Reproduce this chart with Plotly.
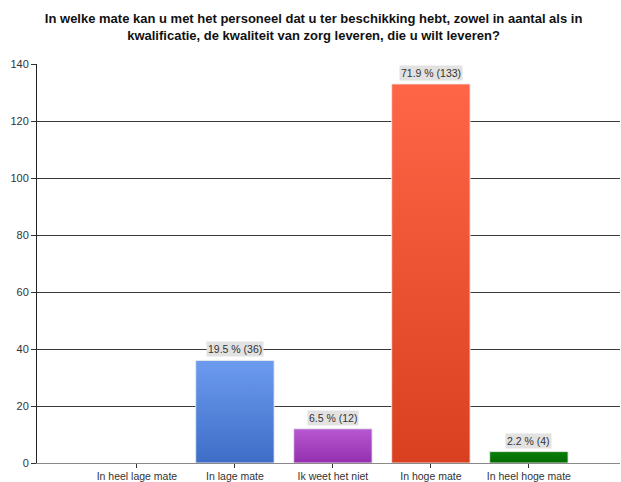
import plotly.graph_objects as go

categories = ["In heel lage mate", "In lage mate", "Ik weet het niet", "In hoge mate", "In heel hoge mate"]
counts = [0, 36, 12, 133, 4]
percents = [0.0, 19.5, 6.5, 71.9, 2.2]
top_colors = ["#6f9ff0", "#6c9bf0", "#b857d2", "#ff6647", "#0a7f0a"]
bottom_colors = ["#3c6cc6", "#3d6dc6", "#9430ae", "#d8401f", "#006a00"]

title_text = ("In welke mate kan u met het personeel dat u ter beschikking hebt, zowel in aantal als in"
              "<br>kwalificatie, de kwaliteit van zorg leveren, die u wilt leveren?")

half = 0.4
fig = go.Figure()
for i, (cat, v) in enumerate(zip(categories, counts)):
    if v <= 0:
        continue
    fig.add_trace(go.Scatter(
        x=[i - half, i + half, i + half, i - half, i - half],
        y=[0, 0, v, v, 0],
        mode="lines",
        fill="toself",
        fillcolor=top_colors[i],
        fillgradient=dict(type="vertical",
                          colorscale=[[0, bottom_colors[i]], [1, top_colors[i]]]),
        line=dict(color="rgba(235,235,235,0.9)", width=1),
        hoverinfo="skip",
        showlegend=False,
        name=cat,
    ))

for i, (v, p) in enumerate(zip(counts, percents)):
    if v <= 0:
        continue
    fig.add_annotation(
        x=i, y=v, xref="x", yref="y",
        text=f"{p:.1f} % ({v})",
        showarrow=False, yanchor="bottom", yshift=3,
        bgcolor="#e2e2e2", borderpad=1,
        font=dict(family="Liberation Sans, Arial, sans-serif", size=10.5, color="#333333"),
    )

fig.update_layout(
    width=621, height=482,
    margin=dict(l=37, r=1, t=64, b=19),
    paper_bgcolor="white", plot_bgcolor="white",
    font=dict(family="Liberation Sans, Arial, sans-serif", size=11, color="#333333"),
    title=dict(text="<b>" + title_text + "</b>", x=0.505, xanchor="center",
               y=0.953, yanchor="top",
               font=dict(family="Liberation Sans, Arial, sans-serif", size=13, color="#111111")),
    showlegend=False,
)
fig.update_xaxes(
    range=[-1.02, 4.93], tickmode="array", tickvals=list(range(len(categories))),
    ticktext=categories, showgrid=False, zeroline=False,
    showline=True, linecolor="#8a8a8a", linewidth=1,
    ticks="outside", ticklen=4, tickcolor="#333333", ticklabelstandoff=-1,
    tickfont=dict(size=10.5, color="#333333"), automargin=False, fixedrange=True,
)
fig.update_yaxes(
    range=[0, 140], dtick=20, showgrid=True, gridcolor="#3a3a3a", gridwidth=1,
    zeroline=False, showline=True, linecolor="#222222", linewidth=1,
    ticks="outside", ticklen=5, tickcolor="#333333",
    tickfont=dict(size=11, color="#333333"), automargin=False, fixedrange=True,
)

fig.write_html("out.html")
